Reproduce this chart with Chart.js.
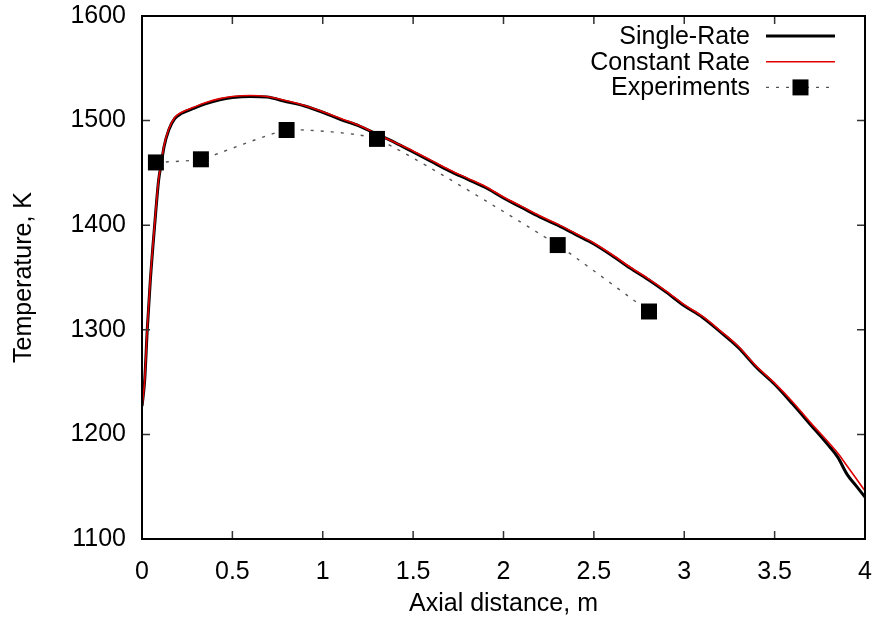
<!DOCTYPE html>
<html>
<head>
<meta charset="utf-8">
<script src="https://cdn.jsdelivr.net/npm/chart.js@4/dist/chart.umd.min.js"></script>
<style>
  html, body { margin: 0; padding: 0; background: #fff; }
  #wrap { width: 878px; height: 619px; }
</style>
</head>
<body>
<div id="wrap"><canvas id="c" width="878" height="619"></canvas></div>
<script>
// Axial positions (m) shared by both model curves
const axialX = [0, 0.015, 0.029, 0.046, 0.07, 0.092, 0.107, 0.122, 0.148, 0.181, 0.22, 0.29, 0.35, 0.43, 0.5, 0.6, 0.69, 0.8, 0.9, 1.0, 1.1, 1.2, 1.3, 1.4, 1.5, 1.6, 1.7, 1.8, 1.9, 2.0, 2.1, 2.2, 2.3, 2.4, 2.5, 2.6, 2.7, 2.8, 2.9, 3.0, 3.1, 3.2, 3.3, 3.4, 3.5, 3.6, 3.7, 3.8, 3.85, 3.9, 3.95, 4.0];

// Gas temperature (K), single-rate devolatilisation model
const singleRateT = [1227, 1252, 1300, 1347, 1400, 1443, 1459, 1475, 1491, 1502, 1507, 1512, 1516, 1520, 1522, 1523, 1522.5, 1518, 1514, 1508, 1501, 1495, 1487, 1479, 1470, 1461, 1452, 1444, 1436, 1426, 1417, 1408, 1400, 1391, 1382, 1371, 1359, 1348, 1336, 1323, 1312, 1298, 1283, 1264, 1248, 1229, 1209, 1189, 1178, 1162, 1151, 1140];

// Gas temperature (K), constant-rate model
const constantRateT = [1226, 1252, 1301, 1349, 1401, 1444, 1460, 1476, 1492, 1503, 1508, 1513, 1517, 1521, 1523, 1524, 1523, 1519, 1514.5, 1508.5, 1502, 1495.5, 1487, 1479, 1471, 1462, 1453, 1445, 1437, 1427, 1418, 1409, 1401, 1392, 1383, 1372, 1360, 1349, 1337, 1324, 1313, 1299, 1284, 1265, 1249, 1231, 1211, 1192, 1182, 1170, 1158, 1146];

// Measured temperatures
const expX = [0.077, 0.326, 0.80, 1.30, 2.30, 2.805];
const expT = [1460, 1463, 1491, 1482.5, 1381, 1317.5];

// Axis ticks
const xTicks = [0, 0.5, 1, 1.5, 2, 2.5, 3, 3.5, 4];
const yTicks = [1100, 1200, 1300, 1400, 1500, 1600];

const FONT = 'Liberation Sans, Arial, Helvetica, sans-serif';
const FSIZE = 25;

const pts = (xs, ys) => xs.map((x, i) => ({ x: x, y: ys[i] }));

// Closed frame with inward ticks on all four sides
const framePlugin = {
  id: 'frame',
  afterDatasetsDraw(chart) {
    const { ctx, chartArea: a, scales } = chart;
    const len = 8;
    ctx.save();
    ctx.strokeStyle = '#333';
    ctx.lineWidth = 1.5;
    ctx.beginPath();
    xTicks.forEach(v => {
      const px = scales.x.getPixelForValue(v);
      ctx.moveTo(px, a.bottom); ctx.lineTo(px, a.bottom - len);
      ctx.moveTo(px, a.top); ctx.lineTo(px, a.top + len);
    });
    yTicks.forEach(v => {
      const py = scales.y.getPixelForValue(v);
      ctx.moveTo(a.left, py); ctx.lineTo(a.left + len, py);
      ctx.moveTo(a.right, py); ctx.lineTo(a.right - len, py);
    });
    ctx.stroke();
    ctx.strokeStyle = '#000';
    ctx.lineWidth = 2;
    ctx.strokeRect(a.left, a.top, a.right - a.left, a.bottom - a.top);
    ctx.restore();
  }
};

// Key in the upper right: right-aligned text followed by a line sample
const keyPlugin = {
  id: 'key',
  afterDraw(chart) {
    const { ctx } = chart;
    const textRight = 750, x0 = 766, x1 = 835, y0 = 36, dy = 25.7;
    ctx.save();
    ctx.font = FSIZE + 'px ' + FONT;
    ctx.textAlign = 'right';
    ctx.textBaseline = 'middle';
    chart.data.datasets.forEach((ds, i) => {
      const y = y0 + i * dy;
      ctx.fillStyle = '#000';
      ctx.fillText(ds.label, textRight, y + 1);
      ctx.strokeStyle = ds.borderColor;
      ctx.lineWidth = ds.borderWidth;
      ctx.setLineDash(ds.borderDash || []);
      ctx.beginPath();
      ctx.moveTo(x0, y); ctx.lineTo(x1, y);
      ctx.stroke();
      ctx.setLineDash([]);
      if (ds.pointRadius > 0) {
        const s = ds.pointRadius * Math.SQRT1_2;
        ctx.fillStyle = ds.pointBackgroundColor;
        ctx.fillRect((x0 + x1) / 2 - s, y - s, 2 * s, 2 * s);
      }
    });
    ctx.restore();
  }
};

// Keep the plot frame fixed: no extra room reserved for overhanging end labels
const noOverhang = s => {
  s.paddingLeft = 0; s.paddingRight = 0; s.paddingTop = 0; s.paddingBottom = 0;
};

new Chart(document.getElementById('c'), {
  type: 'scatter',
  data: {
    datasets: [
      {
        label: 'Single-Rate',
        data: pts(axialX, singleRateT),
        showLine: true,
        borderColor: '#000',
        borderWidth: 3,
        pointRadius: 0,
        cubicInterpolationMode: 'monotone',
        order: 2
      },
      {
        label: 'Constant Rate',
        data: pts(axialX, constantRateT),
        showLine: true,
        borderColor: '#e00000',
        borderWidth: 1.6,
        pointRadius: 0,
        cubicInterpolationMode: 'monotone',
        order: 1
      },
      {
        label: 'Experiments',
        data: pts(expX, expT),
        showLine: true,
        borderColor: '#555',
        borderWidth: 1.4,
        borderDash: [3, 7],
        pointStyle: 'rect',
        pointRadius: 11.3,
        pointBackgroundColor: '#000',
        pointBorderColor: '#000',
        pointBorderWidth: 0,
        tension: 0.15,
        order: 0
      }
    ]
  },
  plugins: [framePlugin, keyPlugin],
  options: {
    responsive: false,
    animation: false,
    devicePixelRatio: 1,
    layout: { padding: { left: 0, right: 13, top: 16, bottom: 0 } },
    plugins: { legend: { display: false }, tooltip: { enabled: false } },
    scales: {
      x: {
        type: 'linear',
        min: 0, max: 4,
        afterBuildTicks: s => { s.ticks = xTicks.map(v => ({ value: v })); },
        afterFit: s => { s.height = 80; noOverhang(s); },
        grid: { display: false, drawTicks: false },
        border: { display: false },
        ticks: {
          padding: 18,
          color: '#000',
          font: { family: FONT, size: FSIZE },
          maxRotation: 0,
          callback: v => String(v)
        },
        title: {
          display: true,
          text: 'Axial distance, m',
          color: '#000',
          font: { family: FONT, size: FSIZE, lineHeight: 1.2 },
          padding: { top: 0, bottom: 0 }
        }
      },
      y: {
        type: 'linear',
        min: 1100, max: 1600,
        afterBuildTicks: s => { s.ticks = yTicks.map(v => ({ value: v })); },
        afterFit: s => { s.width = 142; noOverhang(s); },
        grid: { display: false, drawTicks: false },
        border: { display: false },
        ticks: {
          padding: 16,
          color: '#000',
          font: { family: FONT, size: FSIZE },
          callback: v => String(v)
        },
        title: {
          display: true,
          text: 'Temperature, K',
          color: '#000',
          font: { family: FONT, size: FSIZE, lineHeight: 1.2 },
          padding: { top: 9, bottom: 0 }
        }
      }
    }
  }
});
</script>
</body>
</html>
